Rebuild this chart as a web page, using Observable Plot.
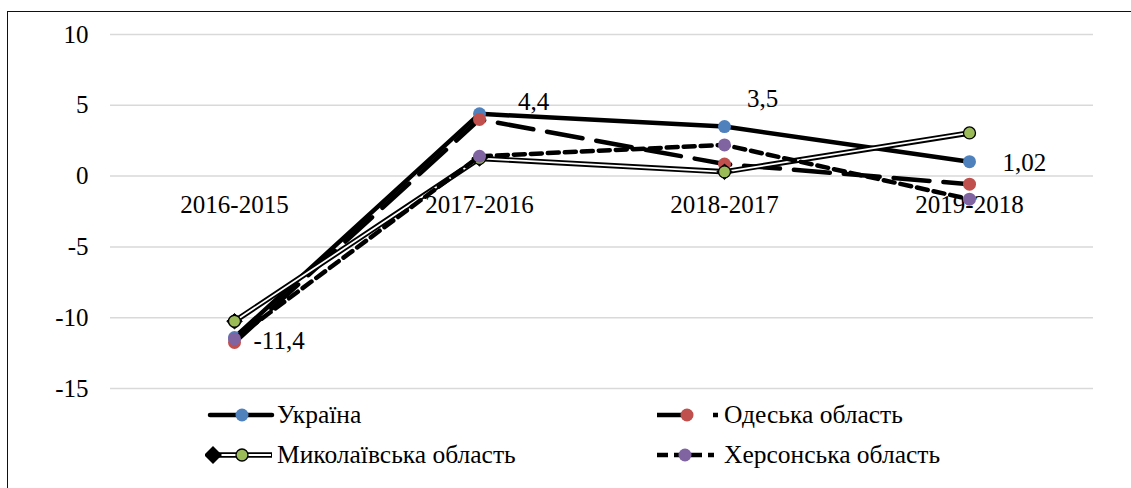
<!DOCTYPE html>
<html><head><meta charset="utf-8">
<script src="https://cdn.jsdelivr.net/npm/d3@7"></script>
<script src="https://cdn.jsdelivr.net/npm/@observablehq/plot@0.6"></script>
<style>
body{margin:0;background:#fff;}
#wrap{position:relative;width:1131px;height:488px;overflow:hidden;font-family:"Liberation Serif","Times New Roman",serif;background:#fff;}
#frame{position:absolute;left:7px;top:11px;width:1130px;height:480px;border-left:1.5px solid #111;border-top:1.5px solid #111;}
#chart{position:absolute;left:0;top:0;}
.lg{position:absolute;display:flex;align-items:center;font-size:25.5px;color:#000;white-space:nowrap;}
.lg svg{display:block;margin-right:0;}
</style></head><body>
<div id="wrap"><div id="frame"></div><div id="chart"></div><div id="legend"></div></div>
<script>
const categories = ["2016-2015", "2017-2016", "2018-2017", "2019-2018"];
const seriesNames = ["Україна", "Одеська область", "Миколаївська область", "Херсонська область"];
const ukraine = [-11.4, 4.4, 3.5, 1.02];
const odesa = [-11.75, 4.0, 0.85, -0.57];
const mykolaiv = [-10.25, 1.25, 0.3, 3.05];
const kherson = [-11.5, 1.4, 2.2, -1.63];
const ukraineLabels = ["-11,4", "4,4", "3,5", "1,02"];
const yTicks = [-15, -10, -5, 0, 5, 10];

const colors = ["#4F81BD", "#C0504D", "#9BBB59", "#8064A2"];
const toRows = (vals, s) => vals.map((v, i) => ({cat: categories[i], value: v, series: s, i, label: s === seriesNames[0] ? ukraineLabels[i] : ""}));
const uk = toRows(ukraine, seriesNames[0]);
const od = toRows(odesa, seriesNames[1]);
const my = toRows(mykolaiv, seriesNames[2]);
const kh = toRows(kherson, seriesNames[3]);

const font = 25;
const chart = Plot.plot({
  width: 1131, height: 488,
  marginLeft: 110, marginRight: 38, marginTop: 34, marginBottom: 100,
  x: {type: "point", domain: categories, padding: 0.5, axis: null},
  y: {domain: [-15, 10], axis: null},
  style: {fontFamily: "Liberation Serif, Times New Roman, serif", fontSize: "25px", background: "transparent", overflow: "visible", color: "#000"},
  marks: [
    Plot.gridY(yTicks, {stroke: "#d9d9d9", strokeOpacity: 1, strokeWidth: 1.5}),
    Plot.axisY(yTicks, {tickSize: 0, tickPadding: 22, fontSize: font, tickFormat: d => String(d), fill: "#000", label: null}),
    Plot.text(categories, {x: d => d, y: () => 0, dy: 29, fontSize: font, fill: "#000"}),
    // Україна
    Plot.line(uk, {x: "cat", y: "value", stroke: "#000", strokeWidth: 4.5, strokeLinejoin: "round", strokeLinecap: "round"}),
    Plot.dot(uk, {x: "cat", y: "value", r: 6.5, fill: colors[0], stroke: "none"}),
    // Одеська
    Plot.line(od, {x: "cat", y: "value", stroke: "#000", strokeWidth: 4.5, strokeDasharray: "36,14", strokeLinejoin: "round"}),
    Plot.dot(od, {x: "cat", y: "value", r: 6.5, fill: colors[1], stroke: "none"}),
    // Миколаївська
    Plot.line(my, {x: "cat", y: "value", stroke: "#000", strokeWidth: 5.5, strokeLinejoin: "round"}),
    Plot.line(my, {x: "cat", y: "value", stroke: "#fff", strokeWidth: 1.8, strokeLinejoin: "round"}),
    Plot.dot(my, {filter: d => d.i < 3, x: "cat", y: "value", symbol: "diamond2", r: 7, fill: "#000", stroke: "#000", strokeWidth: 1}),
    Plot.dot(my, {x: "cat", y: "value", r: 6, fill: colors[2], stroke: "#000", strokeWidth: 1.3}),
    // Херсонська
    Plot.line(kh, {x: "cat", y: "value", stroke: "#000", strokeWidth: 4.5, strokeDasharray: "11,6", strokeLinejoin: "round"}),
    Plot.dot(kh, {x: "cat", y: "value", r: 6.5, fill: colors[3], stroke: "none"}),
    // data labels
    Plot.text(uk, {filter: d => d.i === 0, x: "cat", y: "value", text: "label", textAnchor: "start", dx: 19, dy: 3, fontSize: font, fill: "#000"}),
    Plot.text(uk, {filter: d => d.i === 1, x: "cat", y: "value", text: "label", dx: 54, dy: -12, fontSize: font, fill: "#000"}),
    Plot.text(uk, {filter: d => d.i === 2, x: "cat", y: "value", text: "label", dx: 38, dy: -28, fontSize: font, fill: "#000"}),
    Plot.text(uk, {filter: d => d.i === 3, x: "cat", y: "value", text: "label", textAnchor: "start", dx: 33, dy: 1, fontSize: font, fill: "#000"})
  ]
});
document.getElementById("chart").appendChild(chart);

// legend
const legend = document.getElementById("legend");
function swatch(kind) {
  const W = 72, H = 22, cy = 11;
  let s = `<svg width="${W}" height="${H}">`;
  if (kind === 0) {
    s += `<line x1="5" x2="67" y1="${cy}" y2="${cy}" stroke="#000" stroke-width="4.5" stroke-linecap="round"/>`;
    s += `<circle cx="37" cy="${cy}" r="6.5" fill="${colors[0]}"/>`;
  } else if (kind === 1) {
    s += `<line x1="5" x2="66" y1="${cy}" y2="${cy}" stroke="#000" stroke-width="4.5" stroke-dasharray="36,20"/>`;
    s += `<circle cx="35" cy="${cy}" r="6.5" fill="${colors[1]}"/>`;
  } else if (kind === 2) {
    s += `<line x1="8" x2="67" y1="${cy}" y2="${cy}" stroke="#000" stroke-width="5.5"/>`;
    s += `<line x1="8" x2="66" y1="${cy}" y2="${cy}" stroke="#fff" stroke-width="1.8"/>`;
    s += `<path d="M8,${cy-9}L17,${cy}L8,${cy+9}L-1,${cy}Z" fill="#000"/>`;
    s += `<circle cx="37" cy="${cy}" r="6" fill="${colors[2]}" stroke="#000" stroke-width="1.3"/>`;
  } else {
    s += `<line x1="5" x2="62" y1="${cy}" y2="${cy}" stroke="#000" stroke-width="4.5" stroke-dasharray="11,6"/>`;
    s += `<circle cx="33" cy="${cy}" r="6.5" fill="${colors[3]}"/>`;
  }
  return s + `</svg>`;
}
const legendPos = [[205, 415], [652, 415], [205, 455], [652, 455]];
seriesNames.forEach((name, k) => {
  const d = document.createElement("div");
  d.className = "lg";
  d.style.left = legendPos[k][0] + "px";
  d.style.top = (legendPos[k][1] - 15) + "px";
  d.style.height = "30px";
  d.innerHTML = swatch(k) + `<span>${name}</span>`;
  legend.appendChild(d);
});
</script>
</body></html>
